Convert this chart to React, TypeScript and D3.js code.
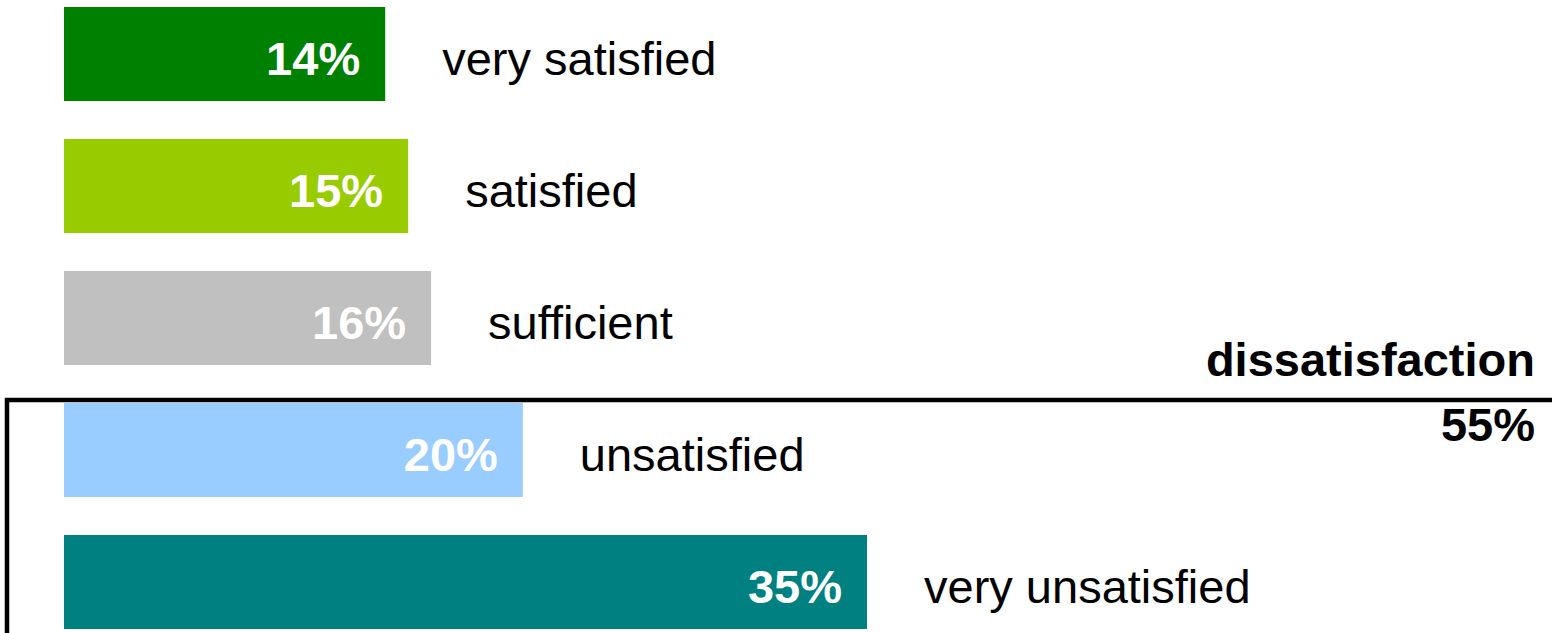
import React, { useEffect, useRef } from 'react';
import * as d3 from 'd3';

const categories = ['very satisfied', 'satisfied', 'sufficient', 'unsatisfied', 'very unsatisfied'];
const shares = [14, 15, 16, 20, 35];
const barColors = ['#008000', '#99cc00', '#c0c0c0', '#99ccff', '#008080'];
const groupTitle = 'dissatisfaction';
const groupShare = 55;

const width = 1552;
const height = 633;
const font = '"Liberation Sans", Arial, sans-serif';

const App: React.FC = () => {
  const svgRef = useRef<SVGSVGElement>(null);

  useEffect(() => {
    if (!svgRef.current) return;
    const svg = d3.select(svgRef.current);
    svg.selectAll('*').remove();

    const rows = categories.map((c, i) => ({ name: c, value: shares[i], color: barColors[i] }));

    const x = d3.scaleLinear().domain([0, 35]).range([64, 867]);
    const y = d3.scaleBand<string>()
      .domain(categories)
      .range([7, 629])
      .paddingInner(38 / 132)
      .paddingOuter(0);

    // bars
    svg.selectAll('.bar')
      .data(rows)
      .enter()
      .append('rect')
      .attr('class', 'bar')
      .attr('x', x(0))
      .attr('y', d => y(d.name)!)
      .attr('width', d => x(d.value) - x(0))
      .attr('height', y.bandwidth())
      .attr('fill', d => d.color);

    // values inside bars
    svg.selectAll('.value')
      .data(rows)
      .enter()
      .append('text')
      .attr('class', 'value')
      .attr('x', d => x(d.value) - 25)
      .attr('y', d => y(d.name)! + y.bandwidth() / 2 + 21)
      .attr('text-anchor', 'end')
      .attr('font-family', font)
      .attr('font-weight', 'bold')
      .attr('font-size', 47)
      .attr('fill', '#ffffff')
      .text(d => `${d.value}%`);

    // category names next to bars
    svg.selectAll('.name')
      .data(rows)
      .enter()
      .append('text')
      .attr('class', 'name')
      .attr('x', d => x(d.value) + 57)
      .attr('y', d => y(d.name)! + y.bandwidth() / 2 + 21)
      .attr('font-family', font)
      .attr('font-size', 47)
      .attr('fill', '#000000')
      .text(d => d.name);

    // bracket around the dissatisfied group
    const top = y('unsatisfied')! - 3;
    svg.append('path')
      .attr('d', `M7,${height + 10} L7,${top} L${width + 10},${top}`)
      .attr('fill', 'none')
      .attr('stroke', '#000000')
      .attr('stroke-width', 4.5);

    svg.append('text')
      .attr('x', 1535)
      .attr('y', top - 24)
      .attr('text-anchor', 'end')
      .attr('font-family', font)
      .attr('font-weight', 'bold')
      .attr('font-size', 47)
      .text(groupTitle);

    svg.append('text')
      .attr('x', 1535)
      .attr('y', top + 41)
      .attr('text-anchor', 'end')
      .attr('font-family', font)
      .attr('font-weight', 'bold')
      .attr('font-size', 47)
      .text(`${groupShare}%`);
  }, []);

  return (
    <svg
      ref={svgRef}
      width={width}
      height={height}
      style={{ position: 'absolute', left: 0, top: 0, background: '#ffffff' }}
    />
  );
};

export default App;
